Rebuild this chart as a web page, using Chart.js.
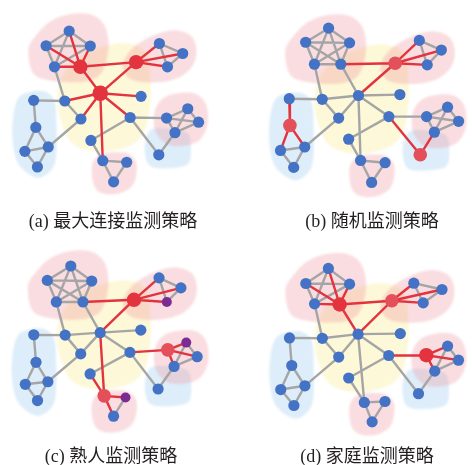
<!DOCTYPE html>
<html>
<head>
<meta charset="utf-8">
<script src="https://cdn.jsdelivr.net/npm/chart.js@4.4.0/dist/chart.umd.min.js"></script>
<style>
body { margin: 0; background: #fff; width: 472px; height: 465px; overflow: hidden; position: relative; }
.panel { position: absolute; }
.cap { position: absolute; font-family: "Liberation Serif", "Noto Sans CJK SC", serif; font-size: 18px; line-height: 20px; color: #231f20; white-space: nowrap; transform: translateX(-50%); }
</style>
</head>
<body>
<div class="panel" style="left:0;top:0"><canvas id="ca" width="236" height="230"></canvas></div>
<div class="panel" style="left:236px;top:0"><canvas id="cb" width="236" height="230"></canvas></div>
<div class="panel" style="left:0;top:230px"><canvas id="cc" width="236" height="235"></canvas></div>
<div class="panel" style="left:236px;top:230px"><canvas id="cd" width="236" height="235"></canvas></div>
<div class="cap" style="left:113px;top:211px">(a) 最大连接监测策略</div>
<div class="cap" style="left:372px;top:211px">(b) 随机监测策略</div>
<div class="cap" style="left:111px;top:446px">(c) 熟人监测策略</div>
<div class="cap" style="left:367px;top:446px">(d) 家庭监测策略</div>
<script>
// nodes: pentagon A, top-right B, hub H, centre C, left L, bottom D, right R
const nodeNames = ['A1','A2','A3','A4','A5','B1','B2','B3','B4','H','C1','C2','C3','C4','C5',
  'L1','L2','L3','L4','L5','D1','D2','D3','R1','R2','R3','R4','R5'];

const edges = [
  ['A1','A2'],['A1','A3'],['A1','A4'],['A1','A5'],['A2','A3'],['A2','A4'],['A2','A5'],['A3','A4'],['A3','A5'],['A4','A5'],
  ['B1','B2'],['B1','B3'],['B1','B4'],['B2','B3'],['B2','B4'],['B3','B4'],
  ['A5','B1'],['A5','H'],['B1','H'],['A4','C1'],
  ['H','C1'],['H','C2'],['H','C3'],['H','C4'],['H','D1'],
  ['C1','C2'],['C1','L1'],['C2','L4'],['C4','C5'],['C5','D1'],['C4','R1'],['C4','R5'],
  ['L1','L2'],['L2','L3'],['L2','L4'],['L3','L4'],['L3','L5'],['L4','L5'],
  ['D1','D2'],['D1','D3'],['D2','D3'],
  ['R1','R2'],['R1','R3'],['R1','R4'],['R2','R3'],['R2','R4'],['R3','R4'],['R4','R5']
];

// node positions per panel (panel-local pixels)
const posA = [[65.7,25],[41,40.7],[88.3,41],[50,63.3],[77.7,63.3],[137.3,58.3],[162.3,38.3],[187.3,49],[171,63.3],
  [99,91.7],[61,100],[78.3,119.3],[142.7,95],[131,117.7],[89,142.3],
  [27.7,99.3],[30,128.3],[18.3,154],[43.3,149.3],[31.7,170.7],[101.7,164],[127.3,165.7],[113.3,186.7],
  [170,118.3],[192.7,108.3],[204.3,122.7],[179,134],[161.7,157.7]];
const posB = [[91,22.7],[66.7,37.7],[113.3,38.3],[76,61],[104,61],[161.7,60],[187.3,35.7],[210.7,46],[195.7,61.7],
  [122.7,94.3],[84.3,98.3],[101.7,118.3],[166.7,93.3],[155,116.7],[112.3,140.7],
  [49.3,97.7],[50,126],[40,152.7],[65.7,149],[54,170.7],[125,163.3],[151,165.7],[136.7,186.7],
  [195,116.7],[217.3,106.7],[229,121.7],[203.3,133.3],[188.3,157.3]];
const posC = [[67.7,30.7],[42.7,46],[90,46.7],[52.3,69],[80.7,69],[135,66.7],[161.7,43.3],[185,54],[170,69],
  [99,101.7],[61.7,104.3],[78.3,124.3],[142.3,99],[130.7,122.7],[88.3,145.7],
  [28.3,104],[30.7,133.3],[19.3,156.7],[43.3,154],[32.3,174],[103.3,169],[126,170.7],[113.3,190.7],
  [171,120],[190.7,112.3],[202.3,127.3],[177.7,137.7],[160.7,161.7]];
const posD = [[90.7,33.3],[66.7,49.3],[113.3,50],[76,71],[102.7,71.7],[158.3,67.7],[181.7,49],[211.7,55.7],[191.7,70],
  [122.3,103.3],[84.3,107.7],[101.7,127.7],[167.3,102.7],[155,126],[112.3,150],
  [49.3,107.3],[51.7,136.7],[40,162.3],[65.7,158.3],[54,179.3],[129,176],[151,175],[137.3,196.7],
  [195,125.7],[217.7,116],[229.3,131],[204,142.7],[186.7,166.7]];

// monitored (red) edges per panel
const redA = [['A1','A5'],['A2','A5'],['A3','A5'],['A4','A5'],['A5','B1'],['A5','H'],['B1','H'],
  ['H','C1'],['H','C2'],['H','C3'],['H','C4'],['H','D1'],['B1','B2'],['B1','B3'],['B1','B4']];
const redB = [['A5','B1'],['B1','H'],['B1','B2'],['B1','B3'],['B1','B4'],['L1','L2'],['L2','L3'],['L2','L4'],['C4','R5'],['R4','R5']];
const redC = [['A5','B1'],['B1','H'],['B1','B2'],['B1','B3'],['B1','B4'],['H','D1'],['C5','D1'],['D1','D2'],['D1','D3'],
  ['C4','R1'],['R1','R2'],['R1','R3'],['R1','R4']];
const redD = [['A1','A5'],['A2','A5'],['A3','A5'],['A4','A5'],['A5','B1'],['A5','H'],['B1','H'],['B1','B2'],['B1','B3'],['B1','B4'],
  ['C4','R1'],['R1','R2'],['R1','R3'],['R1','R4']];

// special nodes per panel: [name, kind]
const markA = [['A5','red'],['B1','red'],['H','hub']];
const markB = [['B1','soft'],['L2','soft'],['R5','soft']];
const markC = [['B1','red'],['R1','soft'],['D1','soft'],['B4','purple'],['R2','purple'],['D2','purple']];
const markD = [['A5','red'],['B1','soft'],['R1','red']];

// community regions (panel-a coordinates)
const blobYellow = [[100,42],[128,38],[148,48],[153,80],[151,115],[143,138],[125,150],[95,154],[70,146],[58,125],[53,95],[60,70],[78,52]];
const blobBlueL = [[6,115],[12,96],[25,90],[40,90],[50,100],[52,125],[52,155],[48,172],[35,182],[22,178],[10,165],[5,140]];
const blobBlueR = [[148,140],[155,130],[175,130],[193,135],[196,155],[192,168],[172,172],[153,170],[147,157]];
const blobPinkTL = [[22,45],[30,30],[45,15],[65,7],[88,7],[103,18],[108,40],[104,62],[95,75],[75,80],[45,78],[27,70]];
const blobPinkTR = [[125,55],[135,42],[155,30],[178,24],[196,30],[202,45],[198,62],[183,75],[160,80],[135,78],[124,68]];
const blobPinkR = [[157,112],[165,98],[180,92],[200,92],[212,103],[214,125],[205,142],[188,148],[170,146],[158,132]];
const blobPinkB = [[90,170],[98,158],[115,155],[130,157],[138,168],[135,188],[123,198],[105,200],[93,192]];
const blobShift = { a: [0,0], b: [23,2], c: [0,8], d: [23,11] };

const BLUE = '#4472c4', GREY = '#a5a5a5', RED = '#e2333e';
const YELLOW_FILL = 'rgba(250,235,140,0.34)', BLUE_FILL = 'rgba(150,200,235,0.32)', PINK_FILL = 'rgba(240,150,160,0.32)';

const blobPlugin = {
  id: 'blobs',
  beforeDatasetsDraw(chart, args, opts) {
    const ctx = chart.ctx, xs = chart.scales.x, ys = chart.scales.y;
    const shapes = [[blobYellow, YELLOW_FILL], [blobBlueL, BLUE_FILL], [blobBlueR, BLUE_FILL],
      [blobPinkTL, PINK_FILL], [blobPinkTR, PINK_FILL], [blobPinkR, PINK_FILL], [blobPinkB, PINK_FILL]];
    ctx.save();
    ctx.filter = 'blur(1.2px)';
    shapes.forEach(([b, col]) => {
      const p = b.map(q => [xs.getPixelForValue(q[0] + opts.shift[0]), ys.getPixelForValue(q[1] + opts.shift[1])]);
      const n = p.length;
      ctx.beginPath();
      ctx.moveTo(p[0][0], p[0][1]);
      for (let k = 0; k < n; k++) {
        const p0 = p[(k - 1 + n) % n], p1 = p[k], p2 = p[(k + 1) % n], p3 = p[(k + 2) % n];
        ctx.bezierCurveTo(p1[0] + (p2[0] - p0[0]) / 6, p1[1] + (p2[1] - p0[1]) / 6,
          p2[0] - (p3[0] - p1[0]) / 6, p2[1] - (p3[1] - p1[1]) / 6, p2[0], p2[1]);
      }
      ctx.closePath();
      ctx.fillStyle = col;
      ctx.fill();
    });
    ctx.restore();
  }
};

function key(e) { return e[0] < e[1] ? e[0] + '-' + e[1] : e[1] + '-' + e[0]; }

function segments(pos, list) {
  const data = [];
  list.forEach(e => {
    const p = pos[nodeNames.indexOf(e[0])], q = pos[nodeNames.indexOf(e[1])];
    data.push({ x: p[0], y: p[1] }, { x: q[0], y: q[1] }, { x: null, y: null });
  });
  return data;
}

function makeChart(id, pos, red, marks, shift, h) {
  const redKeys = red.map(key);
  const grey = edges.filter(e => !redKeys.includes(key(e)));
  const colors = nodeNames.map(() => BLUE);
  const radii = nodeNames.map(() => 5.6);
  marks.forEach(([n, kind]) => {
    const i = nodeNames.indexOf(n);
    if (kind === 'hub') { colors[i] = RED; radii[i] = 7.8; }
    if (kind === 'red') { colors[i] = RED; radii[i] = 7.2; }
    if (kind === 'soft') { colors[i] = '#e4505a'; radii[i] = 6.8; }
    if (kind === 'purple') { colors[i] = '#7a2c92'; radii[i] = 5; }
  });
  new Chart(document.getElementById(id), {
    type: 'scatter',
    data: {
      datasets: [
        { data: pos.map(p => ({ x: p[0], y: p[1] })), pointBackgroundColor: colors, pointRadius: radii,
          pointBorderWidth: 0, pointHoverRadius: radii, order: 0, clip: false },
        { data: segments(pos, red), showLine: true, spanGaps: false, borderColor: RED, borderWidth: 2.4,
          pointRadius: 0, order: 1, clip: false },
        { data: segments(pos, grey), showLine: true, spanGaps: false, borderColor: GREY, borderWidth: 2.4,
          pointRadius: 0, order: 2, clip: false }
      ]
    },
    options: {
      responsive: false, animation: false, events: [],
      layout: { padding: 0 },
      plugins: { legend: { display: false }, tooltip: { enabled: false }, blobs: { shift: shift } },
      scales: {
        x: { type: 'linear', min: 0, max: 236, display: false },
        y: { type: 'linear', min: 0, max: h, reverse: true, display: false }
      }
    },
    plugins: [blobPlugin]
  });
}

makeChart('ca', posA, redA, markA, blobShift.a, 230);
makeChart('cb', posB, redB, markB, blobShift.b, 230);
makeChart('cc', posC, redC, markC, blobShift.c, 235);
makeChart('cd', posD, redD, markD, blobShift.d, 235);
</script>
</body>
</html>
